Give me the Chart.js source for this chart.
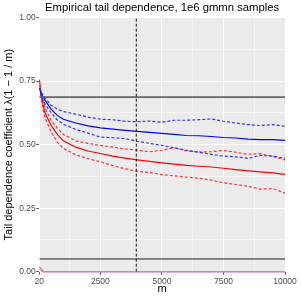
<!DOCTYPE html>
<html>
<head>
<meta charset="utf-8">
<script src="https://cdn.jsdelivr.net/npm/chart.js@4"></script>
<style>
  html, body { margin: 0; padding: 0; background: #fff; }
  canvas { display: block; }
</style>
</head>
<body>
<canvas id="tailChart" width="301" height="301"></canvas>
<script>
// sample sizes m along the x axis
const mValues = [20, 100, 250, 500, 750, 1000, 1500, 2000, 2500, 3000, 3500, 4000,
                 4500, 5000, 5500, 6000, 6500, 7000, 7500, 8000, 8500, 9000, 9500, 10000];

// blue series: estimate with lower / upper band
const blueMid = [0.723, 0.70, 0.675, 0.64, 0.615, 0.60, 0.585, 0.574, 0.566, 0.561, 0.556, 0.552,
                 0.548, 0.544, 0.54, 0.536, 0.535, 0.532, 0.528, 0.526, 0.522, 0.52, 0.52, 0.517];
const blueUpper = [0.723, 0.705, 0.685, 0.655, 0.64, 0.63, 0.62, 0.608, 0.60, 0.598, 0.592, 0.59,
                   0.593, 0.588, 0.596, 0.596, 0.598, 0.601, 0.592, 0.585, 0.579, 0.575, 0.579, 0.572];
const blueLower = [0.723, 0.69, 0.66, 0.625, 0.597, 0.58, 0.56, 0.545, 0.53, 0.527, 0.524, 0.513,
                   0.505, 0.497, 0.487, 0.478, 0.47, 0.462, 0.455, 0.452, 0.446, 0.458, 0.455, 0.446];

// red series: estimate with lower / upper band
const redMid = [0.755, 0.69, 0.625, 0.575, 0.54, 0.515, 0.49, 0.475, 0.465, 0.455, 0.447, 0.44,
                0.434, 0.428, 0.423, 0.418, 0.415, 0.412, 0.407, 0.402, 0.397, 0.393, 0.389, 0.383];
const redUpper = [0.755, 0.70, 0.645, 0.595, 0.565, 0.54, 0.515, 0.505, 0.497, 0.49, 0.483, 0.478,
                  0.472, 0.478, 0.488, 0.475, 0.471, 0.472, 0.477, 0.47, 0.462, 0.465, 0.453, 0.44];
const redLower = [0.755, 0.68, 0.605, 0.55, 0.51, 0.485, 0.46, 0.445, 0.432, 0.418, 0.405, 0.395,
                  0.39, 0.382, 0.377, 0.372, 0.368, 0.36, 0.35, 0.343, 0.336, 0.325, 0.327, 0.309];

// curves sitting on zero
const purpleM = [20, 200, 10000];
const purpleVals = [0.02, 0, 0];
const orangeM = [20, 120, 10000];
const orangeVals = [0.012, 0, 0];

// reference lines
const upperRef = 0.687;
const lowerRef = 0.05;
const cutoffM = 3960;

// axis breaks
const xMajor = [20, 2500, 5000, 7500, 10000];
const xMinor = [1260, 3750, 6250, 8750];
const yMajor = [0, 0.25, 0.5, 0.75, 1];
const yMinor = [0.125, 0.375, 0.625, 0.875];
const yLabels = ['0.00', '0.25', '0.50', '0.75', '1.00'];

const FONT = '"Liberation Sans", Arial, Helvetica, sans-serif';

function toPoints(xs, ys) {
    return xs.map((x, i) => ({ x: x, y: ys[i] }));
}

function curve(ys, color, dashed) {
    return {
        data: toPoints(mValues, ys),
        borderColor: color,
        borderWidth: 1.2,
        borderDash: dashed ? [3, 2] : [],
        pointRadius: 0
    };
}

function flatLine(y, color, width) {
    return {
        data: [{ x: 20, y: y }, { x: 10000, y: y }],
        borderColor: color,
        borderWidth: width,
        pointRadius: 0
    };
}

function setTicks(major, minor) {
    return function (scale) {
        scale.ticks = major.concat(minor).sort((a, b) => a - b).map(v => ({ value: v }));
    };
}

function isMajor(list, v) {
    return list.some(m => Math.abs(m - v) < 1e-9);
}

const panelBg = {
    id: 'panelBg',
    beforeDraw(chart) {
        const { ctx, chartArea: a } = chart;
        ctx.save();
        ctx.fillStyle = '#ffffff';
        ctx.fillRect(0, 0, chart.width, chart.height);
        ctx.fillStyle = '#ebebeb';
        ctx.fillRect(a.left, a.top, a.right - a.left, a.bottom - a.top);
        ctx.restore();
    }
};

const ctx = document.getElementById('tailChart').getContext('2d');
new Chart(ctx, {
    type: 'line',
    data: {
        datasets: [
            {
                data: [{ x: cutoffM, y: 0 }, { x: cutoffM, y: 1 }],
                borderColor: '#1a1a1a',
                borderWidth: 1,
                borderDash: [3, 2],
                pointRadius: 0
            },
            flatLine(upperRef, '#666666', 1.6),
            flatLine(lowerRef, '#222222', 1),
            curve(blueUpper, '#3333ff', true),
            curve(blueMid, '#0000ff', false),
            curve(blueLower, '#3333ff', true),
            curve(redUpper, '#ff3333', true),
            curve(redMid, '#ff0000', false),
            curve(redLower, '#ff3333', true),
            {
                data: toPoints(purpleM, purpleVals),
                borderColor: '#c77cff',
                borderWidth: 1.4,
                pointRadius: 0,
                clip: false
            },
            {
                data: toPoints(orangeM, orangeVals),
                borderColor: '#f2b705',
                borderWidth: 1.2,
                pointRadius: 0,
                clip: false
            }
        ]
    },
    options: {
        responsive: false,
        animation: false,
        devicePixelRatio: 1,
        layout: { padding: { left: 0, right: 16, top: 0, bottom: 0 } },
        plugins: {
            legend: { display: false },
            tooltip: { enabled: false },
            title: {
                display: true,
                fullSize: false,
                text: 'Empirical tail dependence, 1e6 gmmn samples',
                color: '#000000',
                font: { family: FONT, size: 11.3, weight: 'normal' },
                padding: { top: 1, bottom: 3 }
            }
        },
        scales: {
            x: {
                type: 'linear',
                min: 20,
                max: 10000,
                afterBuildTicks: setTicks(xMajor, xMinor),
                afterFit(scale) { scale.height = 29.3; },
                border: { display: false },
                grid: {
                    color: c => '#ffffff',
                    lineWidth: c => isMajor(xMajor, c.tick.value) ? 1 : 0.5,
                    tickColor: c => isMajor(xMajor, c.tick.value) ? '#333333' : 'rgba(0,0,0,0)',
                    tickLength: 3,
                    tickWidth: 0.8
                },
                ticks: {
                    autoSkip: false,
                    maxRotation: 0,
                    padding: 1.5,
                    color: '#4d4d4d',
                    font: { family: FONT, size: 8.5 },
                    callback: v => isMajor(xMajor, v) ? String(v) : ''
                },
                title: {
                    display: true,
                    text: 'm',
                    color: '#000000',
                    font: { family: FONT, size: 11 },
                    padding: { top: 0, bottom: 5 }
                }
            },
            y: {
                type: 'linear',
                min: 0,
                max: 1,
                afterBuildTicks: setTicks(yMajor, yMinor),
                afterFit(scale) { scale.width = 39.3; },
                border: { display: false },
                grid: {
                    color: c => '#ffffff',
                    lineWidth: c => isMajor(yMajor, c.tick.value) ? 1 : 0.5,
                    tickColor: c => isMajor(yMajor, c.tick.value) ? '#333333' : 'rgba(0,0,0,0)',
                    tickLength: 3,
                    tickWidth: 0.8
                },
                ticks: {
                    autoSkip: false,
                    padding: 0.5,
                    color: '#4d4d4d',
                    font: { family: FONT, size: 8.5 },
                    callback: v => {
                        const i = yMajor.findIndex(m => Math.abs(m - v) < 1e-9);
                        return i >= 0 ? yLabels[i] : '';
                    }
                },
                title: {
                    display: true,
                    text: 'Tail dependence coefficient λ(1 − 1 / m)',
                    color: '#000000',
                    font: { family: FONT, size: 11 },
                    padding: { top: 2.4, bottom: 0 }
                }
            }
        }
    },
    plugins: [panelBg]
});
</script>
</body>
</html>
